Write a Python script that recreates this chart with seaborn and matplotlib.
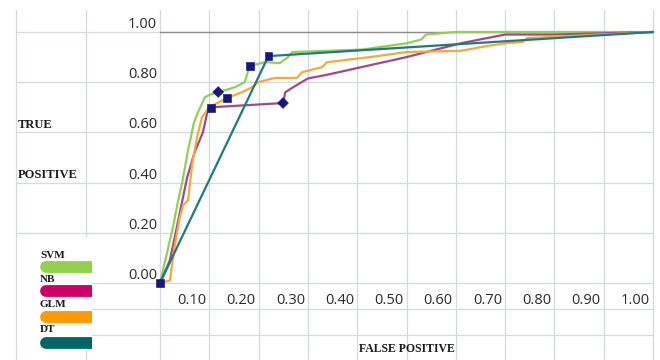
import pandas as pd
import matplotlib
matplotlib.use("Agg")
import matplotlib.pyplot as plt
from matplotlib.patches import Rectangle
import seaborn as sns

# ROC curves
svm_fpr = [0.0, 0.026, 0.037, 0.045, 0.057, 0.069, 0.077, 0.091, 0.101, 0.118, 0.152, 0.172, 0.178, 0.183,
           0.213, 0.243, 0.26, 0.268, 0.41, 0.50, 0.53, 0.54, 0.60, 1.0]
svm_tpr = [0.0, 0.22, 0.33, 0.40, 0.53, 0.64, 0.68, 0.74, 0.75, 0.76, 0.78, 0.80, 0.84, 0.865,
           0.88, 0.876, 0.90, 0.92, 0.93, 0.955, 0.97, 0.99, 1.0, 1.0]

nb_fpr = [0.0, 0.02, 0.037, 0.055, 0.07, 0.087, 0.097, 0.103, 0.25, 0.254, 0.27, 0.30, 0.34, 0.50, 0.61, 0.70, 0.80, 1.0]
nb_tpr = [0.0, 0.09, 0.25, 0.42, 0.52, 0.60, 0.69, 0.70, 0.717, 0.76, 0.78, 0.815, 0.83, 0.90, 0.955, 0.99, 0.99, 1.0]

glm_fpr = [0.0, 0.02, 0.03, 0.04, 0.047, 0.057, 0.065, 0.075, 0.085, 0.10, 0.136, 0.166, 0.187, 0.199,
           0.233, 0.278, 0.288, 0.329, 0.339, 0.426, 0.50, 0.61, 0.663, 0.704, 0.736, 0.745, 1.0]
glm_tpr = [0.0, 0.01, 0.15, 0.26, 0.31, 0.33, 0.47, 0.58, 0.66, 0.70, 0.737, 0.76, 0.78, 0.80,
           0.817, 0.817, 0.84, 0.86, 0.88, 0.90, 0.92, 0.925, 0.944, 0.956, 0.96, 0.976, 1.0]

dt_fpr = [0.0, 0.22, 1.0]
dt_tpr = [0.0, 0.904, 1.0]

models = ["SVM", "NB", "GLM", "DT"]
legend_colors = ["#92d050", "#cc0066", "#ff9900", "#006666"]
line_colors = ["#93cf58", "#a0488c", "#f4a93e", "#1f7a7a"]

# navy point markers on the curves
mark_fpr = [0.0, 0.103, 0.118, 0.136, 0.183, 0.22, 0.2495]
mark_tpr = [0.0, 0.698, 0.761, 0.737, 0.865, 0.904, 0.717]
mark_kind = ["square", "square", "diamond", "square", "square", "square", "diamond"]

x_ticks = [0.1, 0.2, 0.3, 0.4, 0.5, 0.6, 0.7, 0.8, 0.9, 1.0]
y_ticks = [0.0, 0.2, 0.4, 0.6, 0.8, 1.0]

# pixel layout of the sheet
W, H = 660, 360
X0, X1 = 160, 653      # fpr 0 and 1
Y0, Y1 = 283, 32       # tpr 0 and 1
XS = X1 - X0
YS = Y0 - Y1


def px_x(p):
    return (p - X0) / XS


def px_y(p):
    return (Y0 - p) / YS


rows = []
for name, xs, ys in [("SVM", svm_fpr, svm_tpr), ("NB", nb_fpr, nb_tpr),
                     ("GLM", glm_fpr, glm_tpr), ("DT", dt_fpr, dt_tpr)]:
    for a, b in zip(xs, ys):
        rows.append({"model": name, "fpr": a, "tpr": b})
df = pd.DataFrame(rows)
marks = pd.DataFrame({"fpr": mark_fpr, "tpr": mark_tpr, "kind": mark_kind})

sns.set_style("white")
fig = plt.figure(figsize=(6.6, 3.6), dpi=100)
ax = fig.add_axes([0, 0, 1, 1])
ax.set_xlim(px_x(0), px_x(W))
ax.set_ylim(px_y(H), px_y(0))
ax.axis("off")

# spreadsheet cell grid
grid_c = "#d3d8e3"
col_x = [px_x(16), px_x(86)] + [i / 10 for i in range(11)]
for cx in col_x:
    ax.plot([cx, cx], [px_y(10), px_y(H)], color=grid_c, lw=0.9, zorder=0)
row_y = y_ticks + [px_y(309), px_y(335)]
for ry in row_y:
    ax.plot([px_x(16), 1.0], [ry, ry], color=grid_c, lw=0.9, zorder=0)
ax.plot([0, 1.0], [1.0, 1.0], color="#8c8c8c", lw=1.0, zorder=1)

for name, c in zip(models, line_colors):
    sns.lineplot(data=df[df.model == name], x="fpr", y="tpr", sort=False, estimator=None,
                 color=c, lw=1.6, ax=ax, zorder=3)

sns.scatterplot(data=marks, x="fpr", y="tpr", style="kind", markers={"square": "s", "diamond": "D"},
                color="#16167e", s=30, edgecolor="#16167e", legend=False, ax=ax, zorder=5)

tick_font = dict(family="Open Sans", size=10.5, color="#2a2a2a")
for t in y_ticks:
    ax.text(px_x(157), t + 4 / YS, f"{t:.2f}", ha="right", va="baseline", **tick_font)
for t in x_ticks:
    ax.text(t - 3 / XS, px_y(303.5), f"{t:.2f}", ha="right", va="baseline", **tick_font)

lab_font = dict(family="Liberation Serif", weight="bold", color="#1a1a1a")
ax.text(px_x(18), px_y(128), "TRUE", ha="left", va="baseline", size=9, **lab_font)
ax.text(px_x(18), px_y(178), "POSITIVE", ha="left", va="baseline", size=9, **lab_font)
ax.text(px_x(359), px_y(352), "FALSE POSITIVE", ha="left", va="baseline", size=8.5, **lab_font)

# legend block
box = Rectangle((px_x(17), px_y(350)), px_x(92) - px_x(17), px_y(237) - px_y(350),
                facecolor="white", edgecolor="none", zorder=6)
ax.add_patch(box)
text_base = [258, 282, 307, 332]
bar_mid = [267, 291, 316.5, 343]
for name, c, tb, bm in zip(models, legend_colors, text_base, bar_mid):
    ax.text(px_x(40), px_y(tb), name, ha="left", va="baseline", size=8, zorder=7, **lab_font)
    bar, = ax.plot([px_x(46), px_x(120)], [px_y(bm), px_y(bm)], color=c, lw=8.5,
                   solid_capstyle="round", zorder=7)
    bar.set_clip_path(box)

fig.savefig("out.png", dpi=100)
